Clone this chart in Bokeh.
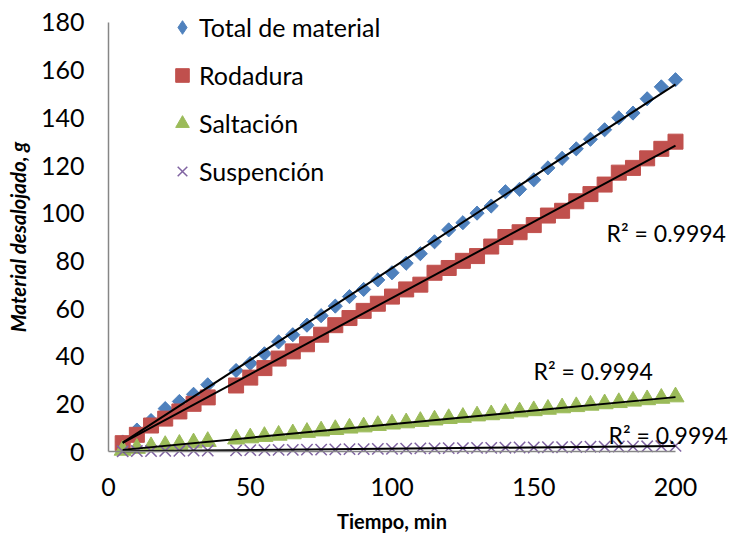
import numpy as np
from bokeh.plotting import figure
from bokeh.models import Range1d, FixedTicker, Legend, LegendItem, Label
from bokeh.embed import file_html
from bokeh.resources import INLINE

# ---- data ----
tiempo = [5, 10, 15, 20, 25, 30, 35, 45, 50, 55, 60, 65, 70, 75, 80, 85, 90, 95, 100,
          105, 110, 115, 120, 125, 130, 135, 140, 145, 150, 155, 160, 165, 170, 175,
          180, 185, 190, 195, 200]
total = [4, 9, 13, 18, 21, 24, 28, 34, 37, 41, 46, 49, 53, 57, 61, 65, 68, 72, 75,
         79, 83, 88, 93, 96, 100, 103, 109, 110, 114, 119, 123, 127, 131, 135,
         140, 142, 148, 153, 156]
rodadura = [3.5, 7, 10.9, 13.8, 16.8, 20, 22.7, 27.7, 31, 35, 39, 42, 45, 49, 53, 56, 59, 62, 65,
            68, 70, 75, 77, 80, 82, 86, 90, 92, 95, 99, 101, 105, 108, 112,
            117, 119, 123, 127, 130]
saltacion = [0.5, 1.3, 2, 2.5, 3, 3.6, 4.2, 5.2, 5.7, 6.3, 6.8, 7.4, 8, 8.6, 9.2, 9.8, 10.3, 10.9, 11.5,
             12, 12.6, 13.2, 13.8, 14.3, 14.9, 15.4, 16, 16.6, 17.1, 17.7, 18.3, 18.8, 19.4, 20,
             20.5, 21.1, 21.7, 22.3, 22.9]
suspension = [0.1, 0.2, 0.2, 0.3, 0.3, 0.4, 0.4, 0.5, 0.6, 0.6, 0.7, 0.7, 0.8, 0.8, 0.9, 1.0, 1.0, 1.1, 1.1,
              1.2, 1.3, 1.3, 1.4, 1.4, 1.5, 1.5, 1.6, 1.7, 1.7, 1.8, 1.8, 1.9, 2.0, 2.0,
              2.1, 2.1, 2.2, 2.3, 2.4]
series_names = ["Total de material", "Rodadura", "Saltación", "Suspención"]
r2_text = "R² = 0.9994"
x_title = "Tiempo, min"
y_title = "Material desalojado, g"
x_ticks = [0, 50, 100, 150, 200]
y_ticks = [0, 20, 40, 60, 80, 100, 120, 140, 160, 180]

FONT = "Lato"
AXIS_GRAY = "#868686"
BLUE, RED, GREEN, PURPLE = "#4F81BD", "#C0504D", "#9BBB59", "#8064A2"

# the frame fills the whole canvas; axes sit at x = 0 and y = 0 inside it
p = figure(width=730, height=540,
           x_range=Range1d(-38.10, 219.40), y_range=Range1d(-37.34, 189.23),
           output_backend="svg", toolbar_location=None,
           min_border_left=0, min_border_right=0, min_border_top=0, min_border_bottom=0)
p.outline_line_color = None
p.xgrid.visible = False
p.ygrid.visible = False
p.background_fill_color = "white"
p.border_fill_color = "white"

# legend-only diamond hidden beneath the rotated squares
r_tot_leg = p.scatter(tiempo, total, marker="diamond", size=13,
                      fill_color=BLUE, line_color=BLUE)
r_tot = p.scatter(tiempo, total, marker="square", angle=np.pi / 4, size=10,
                  fill_color=BLUE, line_color=BLUE)
r_rod = p.scatter(tiempo, rodadura, marker="square", size=15,
                  fill_color=RED, line_color=RED)
r_sal = p.scatter(tiempo, saltacion, marker="triangle", size=17,
                  fill_color=GREEN, line_color=GREEN)
r_sus = p.scatter(tiempo, suspension, marker="x", size=16,
                  line_color=PURPLE, line_width=1.5)

# linear trend lines
for vals in (total, rodadura, saltacion, suspension):
    m, b = np.polyfit(tiempo, vals, 1)
    xs = [min(tiempo), max(tiempo)]
    p.line(xs, [m * x + b for x in xs], line_color="black", line_width=2)

# axes
for ax in (p.xaxis, p.yaxis):
    ax.axis_line_color = AXIS_GRAY
    ax.axis_line_width = 1.5
    ax.major_tick_out = 0
    ax.major_tick_in = 0
    ax.minor_tick_line_color = None
    ax.major_label_text_font = FONT
    ax.major_label_text_font_size = "25px"
    ax.major_label_text_color = "black"
    ax.axis_label_text_font = FONT
    ax.axis_label_text_color = "black"
    ax.fixed_location = 0

p.xaxis.ticker = FixedTicker(ticks=x_ticks)
p.yaxis.ticker = FixedTicker(ticks=y_ticks)
p.xaxis.bounds = (0, 200)
p.yaxis.bounds = (0, 180)
p.xaxis.major_label_standoff = 26
p.yaxis.major_label_standoff = 24
p.xaxis.axis_label = x_title
p.yaxis.axis_label = y_title
p.xaxis.axis_label_text_font_size = "20px"
p.yaxis.axis_label_text_font_size = "20.5px"
p.xaxis.axis_label_text_font_style = "bold"
p.yaxis.axis_label_text_font_style = "bold italic"
p.xaxis.axis_label_standoff = 10
p.yaxis.axis_label_standoff = 8

legend = Legend(items=[LegendItem(label=series_names[0], renderers=[r_tot_leg]),
                       LegendItem(label=series_names[1], renderers=[r_rod]),
                       LegendItem(label=series_names[2], renderers=[r_sal]),
                       LegendItem(label=series_names[3], renderers=[r_sus])],
                location=(165, 352), orientation="vertical",
                glyph_width=34, glyph_height=34, spacing=14, padding=0, margin=0,
                label_standoff=0, label_text_font=FONT, label_text_font_size="25px",
                label_text_color="black", border_line_color=None,
                background_fill_alpha=0)
p.add_layout(legend, "center")

for lx, ly in ((175.7, 91.6), (149.9, 33.7), (176.4, 7.0)):
    p.add_layout(Label(x=lx, y=ly, text=r2_text, text_baseline="middle",
                       text_font=FONT, text_font_size="23px", text_color="black"))

open("out.html", "w").write(file_html(p, INLINE))
